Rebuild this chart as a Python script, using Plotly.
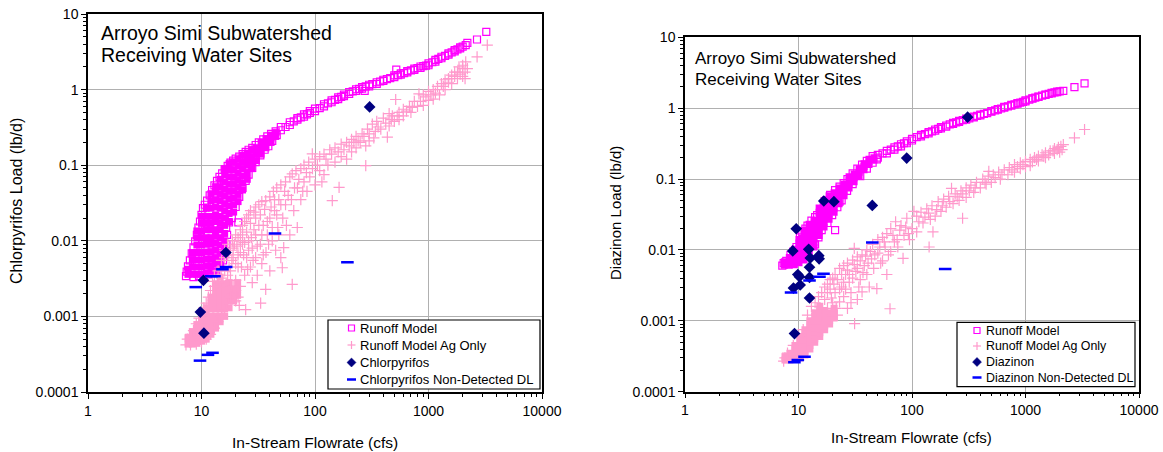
import plotly.graph_objects as go

# ---------------- data: Chlorpyrifos (left panel) ----------------
x_tick_vals = [1, 10, 100, 1000, 10000]
x_tick_text = ["1", "10", "100", "1000", "10000"]
y_tick_vals = [0.0001, 0.001, 0.01, 0.1, 1, 10]
y_tick_text = ["0.0001", "0.001", "0.01", "0.1", "1", "10"]

# dense core of the Runoff Model cloud (flow, [loads])
chl_runoff_core = [
    (7.6, [0.0036, 0.0042]),
    (8.3, [0.0036, 0.0045, 0.0056, 0.007]),
    (9.1, [0.0036, 0.0045, 0.0056, 0.007, 0.0088, 0.011, 0.0135]),
    (10.0, [0.0036, 0.0045, 0.0056, 0.007, 0.0088, 0.011, 0.0135, 0.017, 0.021]),
    (11.0, [0.0037, 0.0046, 0.0057, 0.0071, 0.009, 0.011, 0.014, 0.017, 0.021, 0.027]),
    (12.1, [0.0038, 0.0047, 0.0058, 0.0072, 0.009, 0.011, 0.014, 0.017, 0.021, 0.027, 0.034, 0.042]),
    (13.3, [0.004, 0.005, 0.006, 0.0075, 0.0093, 0.0115, 0.014, 0.018, 0.022, 0.028, 0.035, 0.044, 0.052]),
    (14.6, [0.0045, 0.0056, 0.007, 0.0088, 0.011, 0.014, 0.017, 0.021, 0.027, 0.034, 0.042, 0.052, 0.065]),
    (16.0, [0.0065, 0.008, 0.01, 0.0125, 0.016, 0.02, 0.025, 0.031, 0.039, 0.048, 0.06, 0.075, 0.09]),
    (17.5, [0.018, 0.023, 0.029, 0.036, 0.045, 0.056, 0.07, 0.087, 0.105]),
    (19.2, [0.024, 0.03, 0.037, 0.046, 0.057, 0.07, 0.087, 0.11]),
    (21.0, [0.033, 0.041, 0.051, 0.063, 0.078, 0.097, 0.12]),
    (23.0, [0.047, 0.058, 0.072, 0.09, 0.11, 0.135]),
    (25.3, [0.065, 0.08, 0.1, 0.12, 0.145]),
    (27.8, [0.09, 0.11, 0.13, 0.16]),
    (30.5, [0.115, 0.14, 0.17]),
    (33.5, [0.14, 0.17, 0.2]),
    (37.0, [0.17, 0.2, 0.225]),
    (41.0, [0.2, 0.23, 0.25]),
    (45.0, [0.24, 0.27]),
]
chl_runoff = [
    (7.3, 0.0034), (7.4, 0.0039), (7.6, 0.0046), (7.9, 0.0055), (8.2, 0.0068), (8.5, 0.0082),
    (8.8, 0.0098), (9.1, 0.012), (9.4, 0.015), (9.7, 0.018), (10.0, 0.022), (10.3, 0.027),
    (10.7, 0.030), (11.2, 0.034), (11.8, 0.040), (12.4, 0.047), (13.0, 0.054), (13.7, 0.062),
    (14.4, 0.070), (15.2, 0.078), (16.0, 0.088), (17.0, 0.098), (18.0, 0.108), (19.0, 0.115),
    (20.0, 0.122), (21.5, 0.13), (23.0, 0.14), (24.5, 0.15), (26.0, 0.16), (28.0, 0.17),
    (30.0, 0.185), (32.0, 0.20), (35.0, 0.22), (38.0, 0.24), (41.0, 0.26), (45.0, 0.28),
    (8.5, 0.0033), (9.5, 0.0034), (10.5, 0.0035), (11.5, 0.0036), (12.5, 0.0038), (13.5, 0.0041),
    (14.5, 0.0046), (15.5, 0.0055), (16.2, 0.007), (16.6, 0.009), (16.8, 0.012), (16.5, 0.015),
    (17.5, 0.0175), (21.1, 0.0175), (18.5, 0.02), (20.0, 0.028), (21.5, 0.038), (23.0, 0.05),
    (24.5, 0.062), (26.0, 0.075), (28.0, 0.092), (30.0, 0.11), (33.0, 0.135), (36.0, 0.16),
    (38.8, 0.178), (42.0, 0.21), (46.0, 0.25),
    (50, 0.29), (50, 0.32), (55, 0.32), (60, 0.34), (60, 0.37), (65, 0.38), (70, 0.40), (70, 0.42),
    (75, 0.43), (80, 0.44), (80, 0.47), (85, 0.47), (90, 0.49), (90, 0.52), (100, 0.52), (100, 0.56),
    (110, 0.57), (120, 0.60), (120, 0.64), (130, 0.66), (140, 0.68), (140, 0.72), (150, 0.73),
    (160, 0.75), (160, 0.79), (170, 0.80), (180, 0.82), (180, 0.86), (200, 0.88), (200, 0.93),
    (215, 0.95), (230, 0.96), (230, 1.01), (245, 1.02), (260, 1.03), (260, 1.08), (274, 0.96),
    (280, 1.10), (300, 1.10), (300, 1.16), (320, 1.18), (350, 1.19), (350, 1.25), (375, 1.28),
    (400, 1.30), (400, 1.35), (430, 1.38), (460, 1.42), (500, 1.46), (500, 1.54), (520, 1.84),
    (540, 1.55), (570, 1.58), (570, 1.64), (610, 1.65), (650, 1.69), (650, 1.76), (700, 1.80),
    (750, 1.82), (750, 1.90), (800, 1.93), (850, 1.93), (850, 2.02), (900, 2.05), (950, 2.08),
    (1000, 2.10), (1000, 2.22), (1080, 2.30), (1150, 2.35), (1150, 2.48), (1220, 2.55),
    (1300, 2.60), (1300, 2.72), (1400, 2.80), (1500, 2.90), (1500, 3.02), (1600, 3.10),
    (1700, 3.20), (1700, 3.32), (1800, 3.40), (1900, 3.50), (1900, 3.62), (2000, 3.70),
    (2128, 3.88), (2200, 4.15), (2675, 4.6), (3230, 5.8),
]
chl_ag_core = [
    (7.6, [0.00043, 0.00052]),
    (8.3, [0.00043, 0.00052, 0.00063]),
    (9.1, [0.00044, 0.00053, 0.00064, 0.00078]),
    (10.0, [0.00047, 0.00057, 0.0007, 0.00085, 0.001]),
    (11.0, [0.0005, 0.0006, 0.00074, 0.0009, 0.0011, 0.0013]),
    (12.1, [0.00058, 0.0007, 0.00085, 0.001, 0.00125, 0.0015, 0.0018]),
    (13.3, [0.0007, 0.00085, 0.001, 0.00125, 0.0015, 0.0018, 0.0022, 0.0027]),
    (14.6, [0.00085, 0.001, 0.00125, 0.0015, 0.0018, 0.0022, 0.0027, 0.0033]),
    (16.0, [0.001, 0.00125, 0.0015, 0.0018, 0.0022, 0.0027]),
    (17.5, [0.0013, 0.0016, 0.0019, 0.0023, 0.0028]),
    (19.2, [0.0016, 0.0019, 0.0023]),
    (20.8, [0.0019, 0.0023, 0.0028]),
]
chl_ag = [
    (7.3, 0.00042), (7.5, 0.0005), (8, 0.00058), (8.5, 0.00065), (9, 0.0008), (9.5, 0.00095),
    (10, 0.0011), (10.5, 0.0013), (11, 0.0015), (11.5, 0.0018), (12, 0.0022), (8, 0.00042),
    (9, 0.00043), (10, 0.00046), (11, 0.0005), (12, 0.00058), (13, 0.0007), (14, 0.00085),
    (15, 0.001), (16, 0.0012), (17, 0.0015), (18.7, 0.00195), (20, 0.0022), (21, 0.0018),
    (19, 0.0025), (18, 0.003), (17, 0.0035), (16, 0.004), (15, 0.0032), (14, 0.0028), (13, 0.0025),
    (12.5, 0.0029), (13, 0.0035), (14, 0.004), (15, 0.0045), (16, 0.006), (17, 0.0065), (18, 0.0075),
    (18.7, 0.01), (19.5, 0.009), (20, 0.012), (21, 0.011), (22, 0.014), (23, 0.016), (24, 0.018),
    (25, 0.02), (26, 0.022), (27, 0.025), (29, 0.024), (30, 0.028), (32, 0.03), (34, 0.033),
    (36.8, 0.034), (40, 0.038), (43, 0.045), (46, 0.05), (50, 0.055), (55, 0.06), (60, 0.07),
    (63, 0.077), (68, 0.085), (75, 0.09), (80, 0.1), (88, 0.11), (94.7, 0.141), (100, 0.12),
    (110, 0.13), (120, 0.14), (135, 0.16), (150, 0.17), (170, 0.19), (190, 0.2), (210, 0.22),
    (230, 0.24), (260, 0.26), (290, 0.3), (320, 0.35), (350, 0.38), (400, 0.42), (450, 0.48),
    (514, 0.74), (480, 0.45), (550, 0.5), (600, 0.55), (680, 0.6), (750, 0.7), (824, 0.88),
    (900, 0.85), (1000, 0.95), (1000, 0.72), (1100, 1.0), (1200, 1.1), (1300, 1.2), (1400, 1.35),
    (1500, 1.4), (1600, 1.55), (1700, 1.7), (1857, 2.0), (1900, 1.6), (2000, 1.9), (2128, 2.33),
    (2100, 1.7), (2680, 2.71), (3296, 3.88),
    (18, 0.004), (19, 0.006), (20, 0.003), (21, 0.0045), (22, 0.007), (22, 0.0025), (23, 0.009),
    (24, 0.0035), (24.5, 0.00123), (25, 0.006), (26, 0.01), (27, 0.0045), (28, 0.008), (28, 0.0028),
    (30, 0.012), (30, 0.006), (31, 0.0035), (33.2, 0.0015), (33, 0.009), (34, 0.005), (35, 0.016),
    (36.8, 0.00228), (37, 0.007), (38, 0.012), (40, 0.02), (40, 0.004), (42, 0.01), (44, 0.025),
    (45, 0.0075), (47, 0.015), (48, 0.035), (50, 0.006), (51.5, 0.0044), (53, 0.0081), (52, 0.02),
    (55, 0.03), (58, 0.04), (60, 0.012), (63, 0.00265), (65, 0.025), (69.8, 0.015), (70, 0.05),
    (75, 0.035), (80, 0.06), (85, 0.045), (90, 0.07), (100, 0.055), (110, 0.085), (120, 0.075),
    (130, 0.1), (142, 0.034), (150, 0.11), (163, 0.051), (170, 0.13), (190, 0.12), (210, 0.15),
    (230, 0.17), (250, 0.2), (280, 0.099), (280, 0.18), (300, 0.21), (330, 0.23), (380, 0.3),
    (434, 0.235), (450, 0.33), (500, 0.38), (550, 0.4), (600, 0.45), (700, 0.5), (800, 0.6),
    (900, 0.62), (1100, 0.75), (1250, 0.85), (1400, 1.0), (1600, 1.2), (1800, 1.4), (2000, 1.5),
    (2100, 1.4),
    (15, 0.0055), (16, 0.0075), (17, 0.009), (17.5, 0.0045), (18.5, 0.0055), (19, 0.008), (20, 0.005),
    (20.5, 0.0085), (21, 0.0065), (22, 0.01), (22.5, 0.0045), (23, 0.012), (23.5, 0.0065), (24, 0.0095),
    (25, 0.013), (25.5, 0.0042), (26, 0.0075), (27, 0.017), (27.5, 0.011), (28.5, 0.0055), (29, 0.014),
    (30, 0.02), (31, 0.0085), (32, 0.016), (33, 0.022), (34, 0.012), (35, 0.0065), (36, 0.026),
    (38, 0.018), (39, 0.009), (41, 0.028), (42, 0.015), (44, 0.035), (46, 0.022), (48, 0.012),
    (50, 0.03), (54, 0.045), (56, 0.016), (62, 0.035), (66, 0.05), (72, 0.065), (78, 0.045),
    (84, 0.08), (95, 0.09), (105, 0.1), (115, 0.06), (125, 0.12), (140, 0.14), (160, 0.15),
    (180, 0.16), (200, 0.18), (220, 0.2), (240, 0.21), (270, 0.24), (300, 0.26), (340, 0.28),
    (360, 0.32), (420, 0.36), (470, 0.4), (530, 0.45), (640, 0.52), (720, 0.58), (850, 0.7),
    (950, 0.8), (1050, 0.85), (1150, 0.9), (1350, 1.1), (1500, 1.25), (1700, 1.5), (1800, 1.7),
    (2200, 1.9), (2000, 2.1), (21.5, 0.0014), (20, 0.0016), (18, 0.0018),
]
chl_detect = [(16.4, 0.007), (10.4, 0.003), (9.77, 0.00114), (10.5, 0.0006), (303, 0.59)]
chl_nd = [(8.9, 0.00244), (12.2, 0.0034), (13.0, 0.0034), (15.3, 0.0042), (16.5, 0.0045),
          (44.4, 0.0125), (193, 0.0052), (9.7, 0.00026), (11.4, 0.00031), (12.5, 0.00033)]

# ---------------- data: Diazinon (right panel) ----------------
dia_runoff_core = [
    (7.5, [0.0061, 0.0068]),
    (8.3, [0.0061, 0.0069, 0.0078]),
    (9.2, [0.0062, 0.0071, 0.008, 0.009, 0.0102]),
    (10.1, [0.0066, 0.0075, 0.0085, 0.0096, 0.011, 0.0125, 0.014]),
    (11.2, [0.0072, 0.0082, 0.0093, 0.0105, 0.012, 0.0135, 0.015, 0.017, 0.019]),
    (12.4, [0.0085, 0.0097, 0.011, 0.0125, 0.014, 0.016, 0.018, 0.02, 0.023]),
    (13.7, [0.011, 0.0125, 0.014, 0.016, 0.018, 0.02, 0.023, 0.026]),
    (15.2, [0.016, 0.018, 0.02, 0.023, 0.026, 0.03, 0.034, 0.039]),
    (16.8, [0.021, 0.024, 0.027, 0.031, 0.035, 0.04, 0.045, 0.05]),
    (18.6, [0.027, 0.031, 0.035, 0.04, 0.045, 0.051, 0.058]),
    (20.6, [0.034, 0.039, 0.044, 0.05, 0.057, 0.064]),
    (22.8, [0.045, 0.051, 0.058, 0.066, 0.075]),
    (25.2, [0.058, 0.066, 0.075, 0.085]),
    (27.9, [0.075, 0.085, 0.096, 0.108]),
    (30.9, [0.092, 0.104, 0.118]),
    (34.2, [0.11, 0.125, 0.14]),
    (37.8, [0.135, 0.15, 0.165]),
    (41.8, [0.16, 0.175, 0.19]),
    (46.2, [0.185, 0.2]),
]
dia_runoff = [
    (7.2, 0.006), (7.4, 0.0065), (7.8, 0.007), (8.5, 0.0085), (9.0, 0.0095), (9.6, 0.011),
    (10.3, 0.015), (10.8, 0.018), (11.5, 0.02), (12.0, 0.022), (13.0, 0.026), (14.0, 0.029),
    (14.6, 0.031), (15.5, 0.037), (16.7, 0.045), (17.5, 0.05), (19.0, 0.06), (21.0, 0.019),
    (23.0, 0.048), (21.0, 0.07), (23.0, 0.078), (25.0, 0.088), (27.0, 0.1), (30.0, 0.12),
    (33.0, 0.14), (36.3, 0.16), (40.0, 0.18), (45.0, 0.21), (14.0, 0.012), (15.0, 0.015),
    (16.0, 0.019), (18.0, 0.024), (19.8, 0.031), (22.0, 0.04), (24.0, 0.05), (26.8, 0.068),
    (30.0, 0.085), (35.0, 0.11), (40.0, 0.14), (45.0, 0.17), (49.0, 0.19),
    (50, 0.20), (50, 0.22), (55, 0.23), (60, 0.23), (60, 0.25), (65, 0.26), (70, 0.26), (70, 0.28),
    (75, 0.29), (80, 0.29), (80, 0.31), (85, 0.32), (90, 0.32), (90, 0.34), (100, 0.35), (100, 0.37),
    (110, 0.39), (120, 0.40), (120, 0.42), (130, 0.43), (140, 0.44), (140, 0.46), (150, 0.47),
    (160, 0.48), (160, 0.50), (170, 0.51), (180, 0.52), (180, 0.54), (200, 0.55), (200, 0.57),
    (215, 0.59), (230, 0.60), (230, 0.62), (245, 0.63), (260, 0.64), (260, 0.66), (280, 0.68),
    (300, 0.69), (300, 0.71), (320, 0.72), (350, 0.74), (350, 0.76), (375, 0.78), (400, 0.79),
    (400, 0.81), (430, 0.83), (460, 0.85), (500, 0.89), (500, 0.91), (540, 0.93), (570, 0.95),
    (570, 0.97), (610, 0.99), (650, 1.02), (650, 1.04), (700, 1.06), (750, 1.09), (750, 1.11),
    (800, 1.13), (850, 1.16), (850, 1.18), (900, 1.20), (950, 1.23), (1000, 1.25), (1000, 1.29),
    (1080, 1.32), (1150, 1.36), (1150, 1.38), (1220, 1.41), (1300, 1.44), (1300, 1.46),
    (1400, 1.50), (1500, 1.54), (1500, 1.56), (1600, 1.59), (1700, 1.62), (1700, 1.64),
    (1800, 1.67), (1900, 1.69), (1900, 1.71), (2000, 1.73), (2153, 1.75), (2700, 1.98), (3313, 2.24),
]
dia_ag_core = [
    (7.6, [0.00028, 0.00031]),
    (8.4, [0.00028, 0.00031, 0.00035]),
    (9.3, [0.00029, 0.00032, 0.00036, 0.0004, 0.00045]),
    (10.3, [0.0003, 0.00034, 0.00038, 0.00043, 0.00048, 0.00054, 0.0006]),
    (11.4, [0.00033, 0.00037, 0.00042, 0.00047, 0.00053, 0.0006, 0.00067, 0.00075]),
    (12.6, [0.0004, 0.00045, 0.0005, 0.00057, 0.00064, 0.00072, 0.00081, 0.0009, 0.001]),
    (13.9, [0.0005, 0.00056, 0.00063, 0.0007, 0.0008, 0.0009, 0.001, 0.00115, 0.0013]),
    (15.4, [0.0006, 0.00068, 0.00077, 0.00087, 0.001, 0.0011, 0.00125, 0.0014, 0.0016]),
    (17.0, [0.00075, 0.00085, 0.00095, 0.0011, 0.00125, 0.0014]),
    (18.8, [0.0009, 0.001, 0.00115, 0.0013]),
    (20.6, [0.0011, 0.0013, 0.0015]),
]
dia_ag = [
    (7.4, 0.00027), (7.6, 0.0003), (8.0, 0.00035), (9.0, 0.00045), (10.0, 0.0006), (11.0, 0.00075),
    (12, 0.0012), (13, 0.0016), (14, 0.0018), (15, 0.0022), (16, 0.0025), (17, 0.003), (18, 0.0033),
    (19, 0.0038), (20, 0.004), (21, 0.0045), (23, 0.0055), (25, 0.006), (27, 0.0065), (30, 0.0072),
    (31, 0.0105), (33, 0.008), (36.3, 0.0085), (40, 0.01), (45, 0.012), (50, 0.014), (55, 0.015),
    (60, 0.017), (65, 0.02), (71.7, 0.025), (80, 0.022), (90, 0.028), (104, 0.035), (110, 0.03),
    (120, 0.034), (135, 0.038), (150, 0.042), (170, 0.048), (190, 0.052), (223, 0.074), (210, 0.057),
    (240, 0.062), (270, 0.068), (300, 0.075), (330, 0.082), (370, 0.09), (420, 0.1), (475, 0.128),
    (470, 0.11), (520, 0.115), (580, 0.125), (650, 0.135), (720, 0.145), (800, 0.16), (900, 0.17),
    (1000, 0.178), (1000, 0.15), (1100, 0.19), (1200, 0.2), (1300, 0.21), (1400, 0.22), (1500, 0.235),
    (1650, 0.25), (1800, 0.27), (1950, 0.28), (2153, 0.306), (2100, 0.26), (2700, 0.38), (3313, 0.5),
    (16, 0.0012), (18, 0.0015), (20, 0.0018), (21, 0.0025), (22, 0.0012), (23, 0.00185), (24, 0.003),
    (25, 0.0022), (26, 0.0045), (27, 0.0015), (28, 0.0035), (29, 0.0025), (31.2, 0.00091), (32, 0.005),
    (33, 0.002), (35, 0.0038), (36.3, 0.00256), (38, 0.006), (40, 0.0045), (42, 0.003), (44, 0.0075),
    (46, 0.0055), (49, 0.00285), (50, 0.009), (55, 0.007), (58, 0.011), (60, 0.0045), (64, 0.00148),
    (65, 0.0095), (70, 0.013), (75, 0.011), (83.4, 0.0076), (85, 0.016), (95, 0.014), (100, 0.02),
    (110, 0.018), (125, 0.024), (141.5, 0.011), (145, 0.027), (153, 0.018), (160, 0.03), (180, 0.035),
    (200, 0.04), (230, 0.045), (279, 0.028), (260, 0.05), (300, 0.055), (350, 0.065), (400, 0.075),
    (450, 0.085), (500, 0.09), (600, 0.1), (700, 0.115), (800, 0.125), (900, 0.14), (1100, 0.155),
    (1300, 0.18), (1500, 0.2), (1800, 0.23), (2000, 0.24),
    (17, 0.002), (18, 0.0025), (19, 0.0028), (19.5, 0.0021), (20.5, 0.0033), (21.5, 0.0015),
    (22, 0.0038), (23, 0.0028), (24, 0.0045), (25, 0.0035), (26, 0.0028), (27, 0.0052), (28, 0.0045),
    (29, 0.0018), (30, 0.004), (31, 0.0062), (33, 0.0055), (34, 0.003), (35, 0.007), (37, 0.0048),
    (39, 0.0082), (41, 0.0065), (43, 0.0095), (47, 0.0085), (52, 0.011), (53, 0.0065), (57, 0.013),
    (62, 0.0085), (68, 0.016), (74, 0.014), (78, 0.019), (88, 0.021), (93, 0.017), (115, 0.025),
    (130, 0.029), (140, 0.033), (165, 0.037), (185, 0.042), (215, 0.048), (250, 0.056), (280, 0.062),
    (320, 0.068), (360, 0.075), (440, 0.09), (540, 0.105), (620, 0.115), (760, 0.135), (850, 0.15),
    (950, 0.16), (1150, 0.175), (1250, 0.19), (1450, 0.21), (1600, 0.22), (1750, 0.25), (1900, 0.26),
    (2050, 0.29),
]
dia_detect = [(9.55, 0.0199), (8.9, 0.0097), (12.3, 0.0102), (16.7, 0.049), (20.5, 0.048),
              (44.7, 0.0425), (89.8, 0.198), (309, 0.746), (12.7, 0.0077), (15.1, 0.0083),
              (15.2, 0.0075), (12.5, 0.0057), (9.86, 0.0045), (10.2, 0.0042), (12.5, 0.0041),
              (10.35, 0.0032), (9.03, 0.0029), (12.5, 0.0021), (9.22, 0.00066)]
dia_nd = [(8.6, 0.0025), (12.5, 0.0037), (15.3, 0.0042), (16.6, 0.0046), (44.7, 0.0127),
          (196, 0.0054), (9.2, 0.00026), (9.86, 0.00028), (11.3, 0.00031)]

names_left = ["Runoff Model", "Runoff Model Ag Only", "Chlorpyrifos", "Chlorpyrifos Non-Detected DL"]
names_right = ["Runoff Model", "Runoff Model Ag Only", "Diazinon", "Diazinon Non-Detected DL"]

MAGENTA = "#FF00FF"
PINK = "#FF99CC"
NAVY = "#000080"
BLUE = "#0000FF"
FONT = "Liberation Sans, Arial, sans-serif"
W, H = 1163, 452


def pairs(p):
    return [a for a, _ in p], [b for _, b in p]


def cols(c):
    xs, ys = [], []
    for x, yl in c:
        for y in yl:
            xs.append(x)
            ys.append(y)
    return xs, ys


fig = go.Figure()


def add_panel(xa, ya, runoff_core, runoff, ag_core, ag, detect, nd, names):
    x, y = cols(runoff_core)
    fig.add_trace(go.Scatter(x=x, y=y, mode="markers", xaxis=xa, yaxis=ya, showlegend=False,
                             hoverinfo="skip", name=names[0],
                             marker=dict(symbol="square", size=7, color=MAGENTA, line=dict(width=0))))
    x, y = pairs(runoff)
    fig.add_trace(go.Scatter(x=x, y=y, mode="markers", xaxis=xa, yaxis=ya, name=names[0], showlegend=False,
                             marker=dict(symbol="square-open", size=7, color=MAGENTA,
                                         line=dict(width=1.2, color=MAGENTA))))
    x, y = cols(ag_core)
    fig.add_trace(go.Scatter(x=x, y=y, mode="markers", xaxis=xa, yaxis=ya, showlegend=False,
                             hoverinfo="skip", name=names[1],
                             marker=dict(symbol="square", size=7, color=PINK, line=dict(width=0))))
    x, y = pairs(ag)
    fig.add_trace(go.Scatter(x=x, y=y, mode="markers", xaxis=xa, yaxis=ya, name=names[1], showlegend=False,
                             marker=dict(symbol="cross-thin-open", size=8, color=PINK,
                                         line=dict(width=1.2, color=PINK))))
    x, y = pairs(detect)
    fig.add_trace(go.Scatter(x=x, y=y, mode="markers", xaxis=xa, yaxis=ya, name=names[2], showlegend=False,
                             marker=dict(symbol="diamond", size=9, color=NAVY, line=dict(width=0))))
    x, y = pairs(nd)
    fig.add_trace(go.Scatter(x=x, y=y, mode="markers", xaxis=xa, yaxis=ya, name=names[3], showlegend=False,
                             marker=dict(symbol="line-ew", size=9, color=BLUE,
                                         line=dict(width=2.5, color=BLUE))))


add_panel("x", "y", chl_runoff_core, chl_runoff, chl_ag_core, chl_ag, chl_detect, chl_nd, names_left)
add_panel("x2", "y2", dia_runoff_core, dia_runoff, dia_ag_core, dia_ag, dia_detect, dia_nd, names_right)

minor_x = [m * 10 ** e for e in range(0, 4) for m in range(2, 10)]
minor_y = [m * 10.0 ** e for e in range(-4, 1) for m in range(2, 10)]


def axis_common(vals, text, minor_vals):
    return dict(type="log", tickmode="array", tickvals=vals, ticktext=text, automargin=False,
                ticks="outside", ticklen=5, tickcolor="black", tickwidth=1,
                showgrid=True, gridcolor="#B0B0B0", gridwidth=1,
                showline=True, linecolor="black", linewidth=1.5, mirror=True,
                zeroline=False, tickfont=dict(size=14, color="black", family=FONT),
                minor=dict(tickmode="array", tickvals=minor_vals, ticks="outside", ticklen=3,
                           tickcolor="black", showgrid=False))


def xaxis(domain, anchor):
    d = axis_common(x_tick_vals, x_tick_text, minor_x)
    d.update(range=[0, 4], domain=domain, anchor=anchor)
    return d


def yaxis(domain, anchor):
    d = axis_common(y_tick_vals, y_tick_text, minor_y)
    d.update(range=[-4, 1], domain=domain, anchor=anchor)
    return d


fig.update_layout(
    width=W, height=H, margin=dict(l=0, r=0, t=0, b=0),
    paper_bgcolor="white", plot_bgcolor="white",
    font=dict(family=FONT, color="black"),
    xaxis=xaxis([88 / W, 542 / W], "y"),
    yaxis=yaxis([1 - 392 / H, 1 - 14 / H], "x"),
    xaxis2=xaxis([685 / W, 1139 / W], "y2"),
    yaxis2=yaxis([1 - 391.7 / H, 1 - 37.3 / H], "x2"),
    showlegend=False,
)


def px(x, y):
    return x / W, 1 - y / H


ann = []
shapes = []


def text(s, x, y, size, xanchor="left", angle=0):
    ax, ay = px(x, y)
    ann.append(dict(text=s, x=ax, y=ay, xref="paper", yref="paper", showarrow=False,
                    xanchor=xanchor, yanchor="middle", textangle=angle,
                    font=dict(size=size, family=FONT, color="black")))


# panel titles (one line per annotation for exact line spacing)
text("Arroyo Simi Subwatershed", 99, 33.5, 19.5)
text("Receiving Water Sites", 99, 55, 19.5)
text("Arroyo Simi Subwatershed", 693, 58.5, 17)
text("Receiving Water Sites", 693, 79.5, 17)
# axis titles
text("In-Stream Flowrate (cfs)", 315, 442, 15.5, "center")
text("In-Stream Flowrate (cfs)", 911, 437, 15, "center")
text("Chlorpyrifos Load (lb/d)", 16, 201, 16, "center", -90)
text("Diazinon Load (lb/d)", 615, 213, 15, "center", -90)


# legends drawn as a framed key box with the series' marker styles
def legend_box(x0, y0, x1, y1, sx, tx, rows, names, size, s):
    a0, b0 = px(x0, y1)
    a1, b1 = px(x1, y0)
    shapes.append(dict(type="rect", xref="paper", yref="paper", x0=a0, y0=b0, x1=a1, y1=b1,
                       line=dict(color="black", width=1.2), fillcolor="white", layer="above"))

    def seg(xa, ya, xb, yb, color, width):
        p0 = px(xa, ya)
        p1 = px(xb, yb)
        shapes.append(dict(type="line", xref="paper", yref="paper", x0=p0[0], y0=p0[1],
                           x1=p1[0], y1=p1[1], line=dict(color=color, width=width), layer="above"))

    # open square
    r = rows[0]
    q0 = px(sx - s, r + s)
    q1 = px(sx + s, r - s)
    shapes.append(dict(type="rect", xref="paper", yref="paper", x0=q0[0], y0=q0[1], x1=q1[0], y1=q1[1],
                       line=dict(color=MAGENTA, width=1.2), layer="above"))
    # thin plus
    r = rows[1]
    seg(sx - s - 1, r, sx + s + 1, r, PINK, 1.2)
    seg(sx, r - s - 1, sx, r + s + 1, PINK, 1.2)
    # diamond
    r = rows[2]
    d = s + 1.5
    pts = [px(sx, r - d), px(sx + d, r), px(sx, r + d), px(sx - d, r)]
    path = "M " + " L ".join(f"{p[0]:.5f},{p[1]:.5f}" for p in pts) + " Z"
    shapes.append(dict(type="path", xref="paper", yref="paper", path=path, fillcolor=NAVY,
                       line=dict(color=NAVY, width=0.5), layer="above"))
    # short dash
    r = rows[3]
    seg(sx - s - 1.5, r, sx + s + 1.5, r, BLUE, 2.5)
    for name, r in zip(names, rows):
        text(name, tx, r, size)


legend_box(328, 320, 540, 389, 351.5, 357.5, [328, 345, 362.5, 379.5], names_left, 13, 3)
legend_box(957, 322.3, 1135, 386.7, 977, 983.5, [330.5, 346, 362, 377.5], names_right, 12.4, 3)

fig.update_layout(annotations=ann, shapes=shapes)

fig.write_html("out.html")
